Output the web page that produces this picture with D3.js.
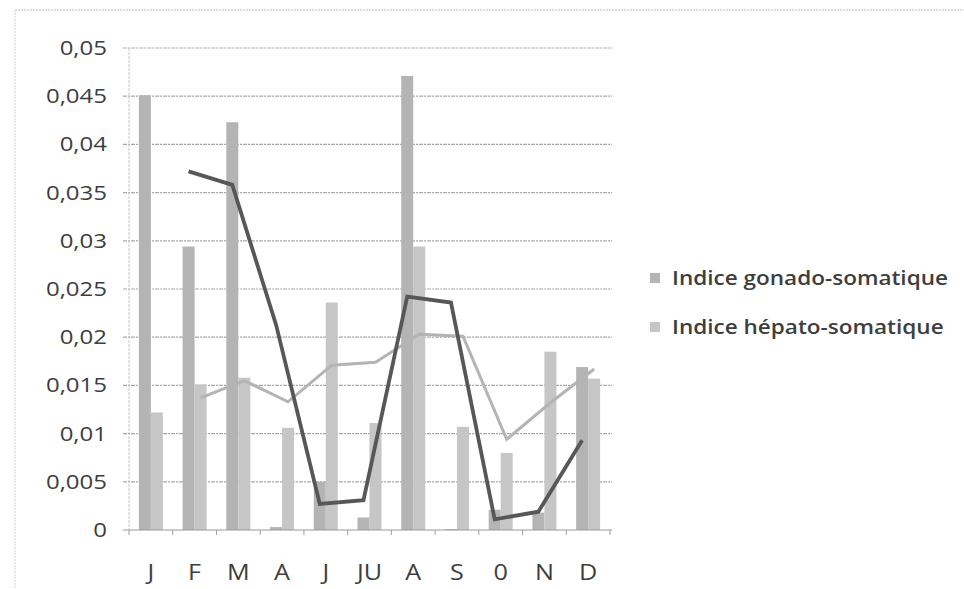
<!DOCTYPE html>
<html>
<head>
<meta charset="utf-8">
<script src="https://cdn.jsdelivr.net/npm/d3@7"></script>
<style>
  html, body { margin: 0; padding: 0; background: #fff; }
  svg { display: block; }
  text { font-family: "Open Sans", "DejaVu Sans", sans-serif; fill: #3e3e3e; }
</style>
</head>
<body>
<svg id="chart" width="964" height="589"></svg>
<script>
// Monthly categories (JU = juillet, 0 = octobre as labelled on the axis)
const months = ["J", "F", "M", "A", "J ", "JU", "A ", "S", "0", "N", "D"];
const monthLabels = ["J", "F", "M", "A", "J", "JU", "A", "S", "0", "N", "D"];

// Indice gonado-somatique per month
const gonado = [0.0451, 0.0294, 0.0423, 0.0003, 0.0050, 0.0013, 0.0471, 0.0001, 0.0021, 0.0018, 0.0169];
// Indice hépato-somatique per month
const hepato = [0.0122, 0.0151, 0.0158, 0.0106, 0.0236, 0.0111, 0.0294, 0.0107, 0.0080, 0.0185, 0.0157];

// Two-period moving-average trend lines (no value for the first month)
const gonadoTrend = [null, 0.0372, 0.0358, 0.0213, 0.0027, 0.0031, 0.0242, 0.0236, 0.0011, 0.0019, 0.0093];
const hepatoTrend = [null, 0.0137, 0.0155, 0.0133, 0.0171, 0.0174, 0.0203, 0.0201, 0.0094, 0.0132, 0.0167];

const yTicks = [0, 0.005, 0.01, 0.015, 0.02, 0.025, 0.03, 0.035, 0.04, 0.045, 0.05];
const seriesNames = ["Indice gonado-somatique", "Indice hépato-somatique"];

const barColors = ["#b4b4b4", "#c6c6c6"];
const lineColors = ["#575757", "#b4b4b4"];
const SX = 1.2; // horizontal stretch of lettering

const svg = d3.select("#chart");

// outer frame (dotted)
svg.append("line").attr("x1", 15).attr("x2", 964).attr("y1", 10).attr("y2", 10)
  .attr("stroke", "#bdbdbd").attr("stroke-width", 1).attr("stroke-dasharray", "2,1");
svg.append("line").attr("x1", 15).attr("x2", 15).attr("y1", 10).attr("y2", 589)
  .attr("stroke", "#cfcfcf").attr("stroke-width", 1).attr("stroke-dasharray", "2,1");

const plot = { left: 129, right: 610, top: 48, bottom: 530 };

const x = d3.scaleBand().domain(months).range([plot.left, plot.right]).paddingInner(0).paddingOuter(0);
const y = d3.scaleLinear().domain([0, 0.05]).range([plot.bottom, plot.top]);

const barW = 12;
const xs = d3.scaleBand().domain([0, 1])
  .range([x.bandwidth() / 2 - barW, x.bandwidth() / 2 + barW]);

// horizontal gridlines
svg.append("g").selectAll("line")
  .data(yTicks.filter(d => d > 0))
  .join("line")
  .attr("x1", plot.left - 6).attr("x2", plot.right + 2)
  .attr("y1", d => y(d)).attr("y2", d => y(d))
  .attr("stroke", "#a9a9a9").attr("stroke-width", 1.2).attr("stroke-dasharray", "4,1,2,1");

// y-axis labels, right-aligned and stretched horizontally
const yAxis = d3.axisLeft(y).tickValues(yTicks).tickSize(0)
  .tickFormat(d => d3.format(".3~f")(d).replace(".", ","));
const gy = svg.append("g").attr("transform", `translate(${plot.left - 22},0)`).call(yAxis);
gy.select(".domain").remove();
gy.selectAll(".tick").each(function (d) {
  const g = d3.select(this);
  g.attr("transform", `translate(0,${y(d)}) scale(${SX},1)`);
  g.select("text").attr("x", 0).attr("dy", "0.35em")
    .style("font-size", "20px").style("fill", "#3e3e3e");
});

// vertical axis line
svg.append("line")
  .attr("x1", plot.left).attr("x2", plot.left).attr("y1", plot.top).attr("y2", plot.bottom)
  .attr("stroke", "#c8c8c8").attr("stroke-width", 1).attr("stroke-dasharray", "3,1");

// bars
const groups = svg.append("g").selectAll("g")
  .data(months)
  .join("g")
  .attr("transform", d => `translate(${x(d)},0)`);

[gonado, hepato].forEach((vals, s) => {
  groups.append("rect")
    .attr("x", xs(s))
    .attr("width", xs.bandwidth())
    .attr("y", (d, i) => y(vals[i]))
    .attr("height", (d, i) => y(0) - y(vals[i]))
    .attr("fill", barColors[s]);
});

// bottom axis with category ticks
const xAxisG = svg.append("g").attr("transform", `translate(0,${plot.bottom})`);
xAxisG.append("line").attr("x1", plot.left - 6).attr("x2", plot.right + 2)
  .attr("stroke", "#9a9a9a").attr("stroke-width", 1.2);
xAxisG.selectAll("line.tk")
  .data(d3.range(months.length + 1))
  .join("line").attr("class", "tk")
  .attr("x1", i => plot.left + i * x.step()).attr("x2", i => plot.left + i * x.step())
  .attr("y1", 0).attr("y2", 5).attr("stroke", "#a0a0a0");
xAxisG.selectAll("g.lbl")
  .data(months)
  .join("g").attr("class", "lbl")
  .attr("transform", d => `translate(${x(d) + x.bandwidth() / 2},50) scale(${SX},1)`)
  .append("text")
  .attr("text-anchor", "middle")
  .style("font-size", "21px")
  .text((d, i) => monthLabels[i]);

// moving-average trend lines, drawn through each series' bar centres
// (light line first so the dark one sits on top)
[1, 0].forEach(s => {
  const vals = s === 0 ? gonadoTrend : hepatoTrend;
  const line = d3.line()
    .defined(d => d != null)
    .x((d, i) => x(months[i]) + xs(s) + xs.bandwidth() / 2)
    .y(d => y(d));
  svg.append("path")
    .datum(vals)
    .attr("d", line)
    .attr("fill", "none")
    .attr("stroke", lineColors[s])
    .attr("stroke-width", s === 0 ? 3.8 : 3)
    .attr("stroke-linejoin", "miter");
});

// legend
const legend = svg.append("g").attr("transform", "translate(650,0)");
const legY = [278, 327];
seriesNames.forEach((name, i) => {
  legend.append("rect")
    .attr("x", 0).attr("y", legY[i] - 5)
    .attr("width", 10).attr("height", 10)
    .attr("fill", barColors[i]);
  legend.append("g")
    .attr("transform", `translate(22,${legY[i]}) scale(1.1,1)`)
    .append("text")
    .attr("dy", "0.35em")
    .style("font-size", "20.5px")
    .style("font-weight", "600")
    .text(name);
});
</script>
</body>
</html>
